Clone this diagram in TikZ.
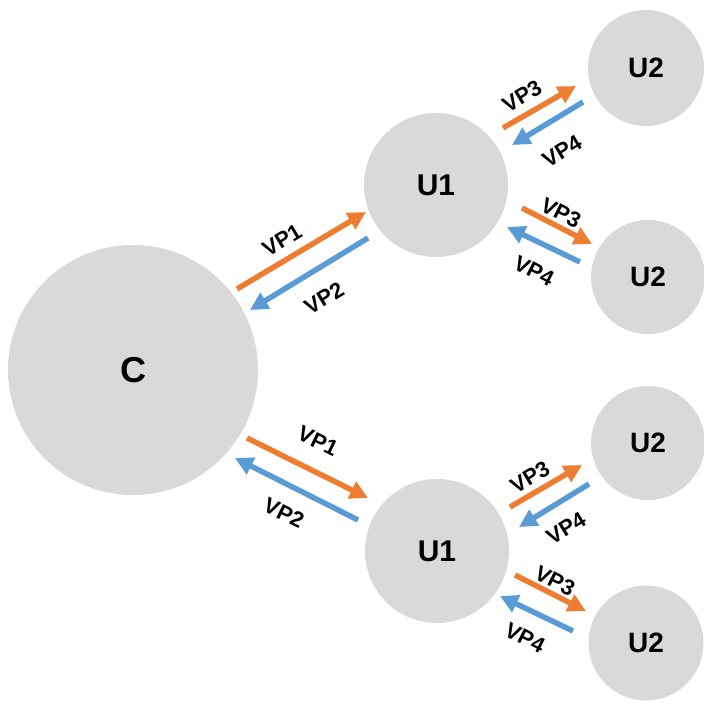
\documentclass[tikz,border=0pt]{standalone}
\usepackage{fontspec}
\setmainfont{Liberation Sans}
\usetikzlibrary{arrows.meta}
\definecolor{og}{HTML}{ED7D31}
\definecolor{bl}{HTML}{5B9BD5}
\definecolor{gr}{HTML}{D9D9D9}
\begin{document}
\begin{tikzpicture}[x=1pt,y=-1pt,
  circ/.style={circle,fill=gr,inner sep=0pt,font=\bfseries},
  arro/.style={line width=5.5pt,draw=og,-{Triangle[length=18pt,width=18pt]}},
  arrb/.style={line width=5.5pt,draw=bl,-{Triangle[length=18pt,width=18pt]}},
  lbl/.style={font=\bfseries\fontsize{22}{22}\selectfont,inner sep=0pt}]
\useasboundingbox (0,0) rectangle (704,705);
% circles
\node[circ,minimum size=250pt,font=\bfseries\fontsize{36}{36}\selectfont] (C) at (133,370) {C};
\node[circ,minimum size=144pt,font=\bfseries\fontsize{30}{30}\selectfont] (U1a) at (436,185) {U1};
\node[circ,minimum size=144pt,font=\bfseries\fontsize{30}{30}\selectfont] (U1b) at (437,551) {U1};
\node[circ,minimum size=116pt,font=\bfseries\fontsize{28}{28}\selectfont] (U2a) at (646,68) {U2};
\node[circ,minimum size=114pt,font=\bfseries\fontsize{28}{28}\selectfont] (U2b) at (648,277) {U2};
\node[circ,minimum size=114pt,font=\bfseries\fontsize{28}{28}\selectfont] (U2c) at (648,443) {U2};
\node[circ,minimum size=115pt,font=\bfseries\fontsize{28}{28}\selectfont] (U2d) at (646,643) {U2};
% arrow end points
\coordinate (o1s) at (237,289); \coordinate (o1e) at (366,212);
\coordinate (b1s) at (368,238); \coordinate (b1e) at (250,310);
\coordinate (o2s) at (247,438); \coordinate (o2e) at (368,498);
\coordinate (b2s) at (358,520); \coordinate (b2e) at (235,458);
\coordinate (o3s) at (503,128); \coordinate (o3e) at (576,86);
\coordinate (b3s) at (583,102); \coordinate (b3e) at (512,145);
\coordinate (o4s) at (522,208); \coordinate (o4e) at (592,244);
\coordinate (b4s) at (580,262); \coordinate (b4e) at (507,227);
\coordinate (o5s) at (510,507); \coordinate (o5e) at (582,465);
\coordinate (b5s) at (589,484); \coordinate (b5e) at (519,527);
\coordinate (o6s) at (515,575); \coordinate (o6e) at (586,611);
\coordinate (b6s) at (573,631); \coordinate (b6e) at (500,596);
% arrows
\draw[arro] (o1s) -- (o1e);
\draw[arrb] (b1s) -- (b1e);
\draw[arro] (o2s) -- (o2e);
\draw[arrb] (b2s) -- (b2e);
\draw[arro] (o3s) -- (o3e);
\draw[arrb] (b3s) -- (b3e);
\draw[arro] (o4s) -- (o4e);
\draw[arrb] (b4s) -- (b4e);
\draw[arro] (o5s) -- (o5e);
\draw[arrb] (b5s) -- (b5e);
\draw[arro] (o6s) -- (o6e);
\draw[arrb] (b6s) -- (b6e);
% labels
\node[lbl,rotate=31] (l1) at (282,240) {VP1};
\node[lbl,rotate=31] (l2) at (324,298) {VP2};
\node[lbl,rotate=-26] (l3) at (318,441) {VP1};
\node[lbl,rotate=-26] (l4) at (284,513) {VP2};
\node[lbl,rotate=31] (l5) at (522,96) {VP3};
\node[lbl,rotate=31] (l6) at (562,151) {VP4};
\node[lbl,rotate=-27] (l7) at (561,213) {VP3};
\node[lbl,rotate=-27] (l8) at (534,271) {VP4};
\node[lbl,rotate=31] (l9) at (530,477) {VP3};
\node[lbl,rotate=31] (l10) at (566,528) {VP4};
\node[lbl,rotate=-27] (l11) at (555,581) {VP3};
\node[lbl,rotate=-27] (l12) at (525,638) {VP4};
\end{tikzpicture}
\end{document}
